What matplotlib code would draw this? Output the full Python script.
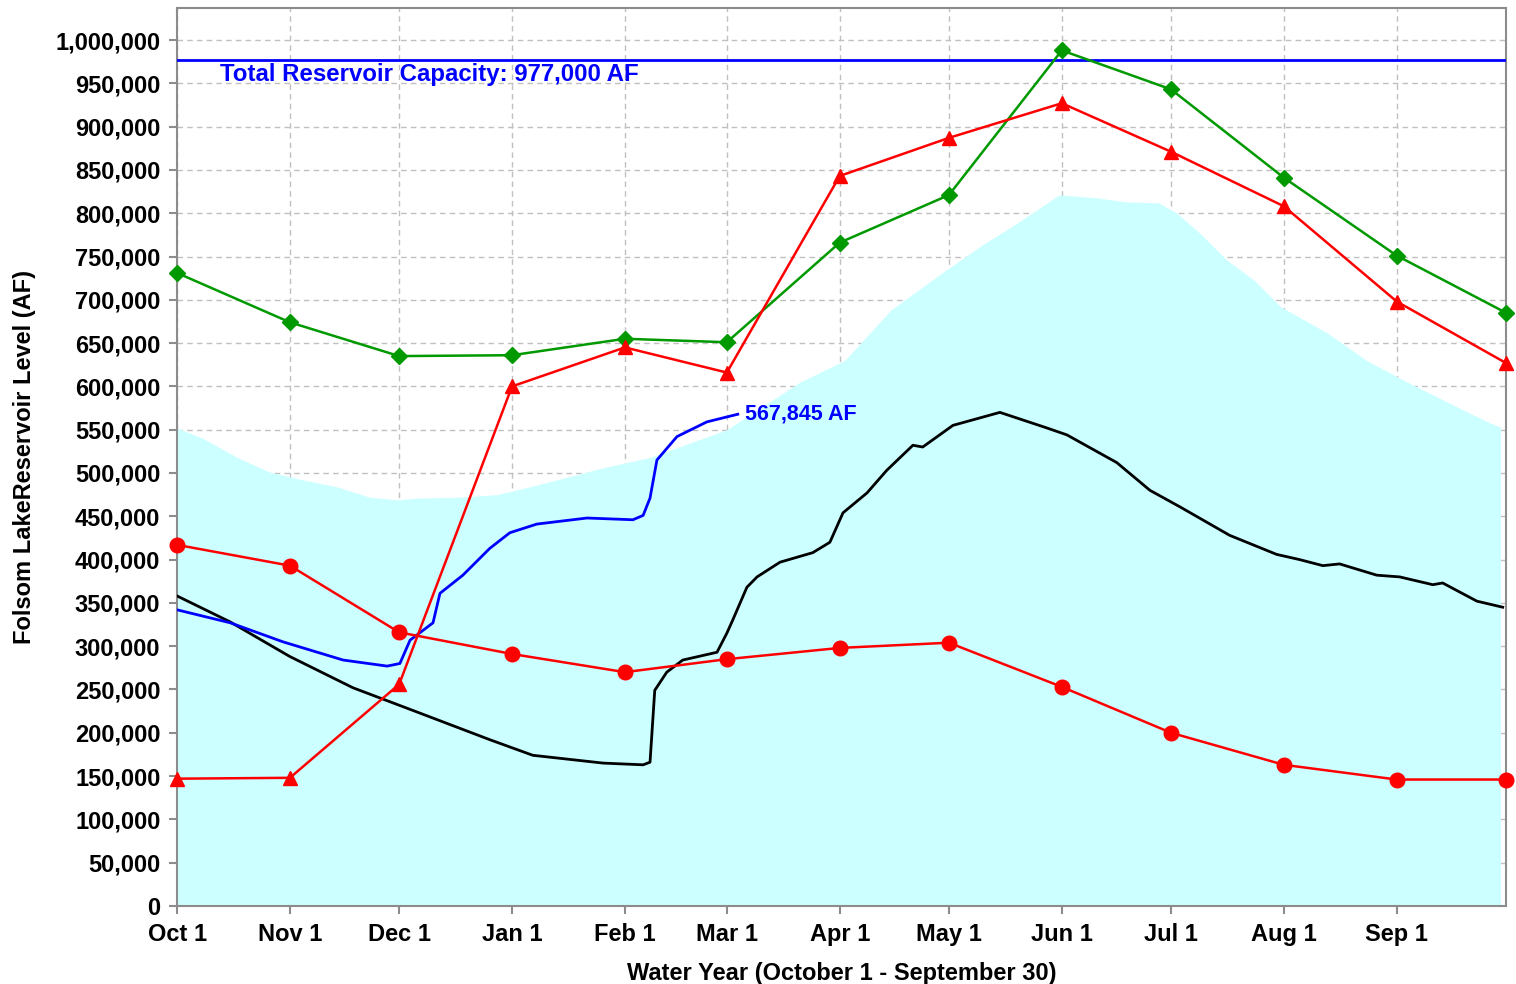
import matplotlib
matplotlib.use("Agg")
import matplotlib.pyplot as plt
from matplotlib.ticker import FuncFormatter, MultipleLocator

plt.rcParams['font.family'] = ['Liberation Sans', 'DejaVu Sans']
plt.rcParams['font.weight'] = 'bold'

# day of water year (0 = Oct 1)
month_days = [0, 31, 61, 92, 123, 151, 182, 212, 243, 273, 304, 335]
month_labels = ['Oct 1', 'Nov 1', 'Dec 1', 'Jan 1', 'Feb 1', 'Mar 1',
                'Apr 1', 'May 1', 'Jun 1', 'Jul 1', 'Aug 1', 'Sep 1']
marker_days = [0, 31, 61, 92, 123, 151, 182, 212, 243, 273, 304, 335, 365]

capacity = 977000

# monthly series (AF)
green_diamonds = [731000, 674000, 635000, 636000, 655000, 651000, 766000,
                  821000, 988000, 943000, 841000, 751000, 685000]
red_triangles = [147000, 148000, 256000, 600000, 645000, 616000, 843000,
                 887000, 927000, 871000, 808000, 698000, 627000]
red_circles = [417000, 393000, 316000, 291000, 270000, 285000, 298000,
               304000, 253000, 200000, 163000, 146000, 146000]

# flood control space (upper limit of cyan area)
flood_days = [0, 7.1, 16.5, 25.5, 34.6, 43.9, 53.0, 60.4, 65.9, 76.9, 87.9,
              98.8, 117.0, 129.9, 151.0, 171.1, 183.4, 196.0, 208.4, 221.0,
              230.9, 242.2, 252.1, 260.8, 269.6, 274.6, 280.9, 288.3, 295.7,
              303.1, 315.8, 326.7, 336.9, 351.7, 360.5, 363.5]
flood_vals = [552000, 540000, 518000, 501000, 492000, 484000, 472000, 469000,
              471000, 472000, 475000, 486000, 506000, 518000, 550000, 605000,
              630000, 688000, 726000, 763000, 789000, 821000, 818000, 813000,
              812000, 800000, 777000, 746000, 723000, 692000, 662000, 630000,
              607000, 576000, 558000, 553000]

# last year storage (black)
black_days = [0, 14.6, 31.0, 48.3, 65.9, 85.9, 97.7, 117.0, 128.0, 129.9,
              131.2, 134.5, 138.9, 148.3, 151.0, 152.6, 156.5, 159.3, 165.6,
              174.6, 179.3, 182.9, 189.5, 194.9, 202.1, 204.8, 213.1, 226.0,
              238.9, 244.4, 258.1, 267.2, 275.4, 289.1, 302.0, 308.3, 314.7,
              319.3, 329.5, 335.8, 344.9, 347.6, 357.0, 364.1]
black_vals = [358000, 328000, 288000, 252000, 224000, 192000, 174000, 165000,
              163000, 166000, 249000, 270000, 284000, 293000, 315000, 330000,
              368000, 380000, 397000, 408000, 420000, 454000, 477000, 503000,
              532000, 530000, 555000, 570000, 552000, 544000, 512000, 480000,
              461000, 428000, 406000, 400000, 393000, 395000, 382000, 380000,
              371000, 373000, 352000, 345000]

# current year storage (blue)
blue_days = [0, 14.6, 29.1, 45.6, 57.7, 61.2, 64.0, 70.3, 72.2, 78.5, 85.9,
             91.4, 98.8, 112.6, 125.2, 128.0, 129.9, 131.8, 137.3, 145.5, 154.0]
blue_vals = [342000, 327000, 305000, 284000, 277000, 280000, 307000, 327000,
             361000, 382000, 413000, 431000, 441000, 448000, 446000, 451000,
             471000, 515000, 542000, 559000, 567845]

fig = plt.figure(figsize=(15.16, 9.84), dpi=100)
ax = fig.add_axes([0.1168, 0.0793, 0.8766, 0.9126])

ax.set_axisbelow(True)
ax.grid(True, color='#c0c0c0', linestyle=(0, (4, 3)), linewidth=1.0)

ax.fill_between(flood_days, 0, flood_vals, color='#ccffff', linewidth=0, zorder=1)

ax.axhline(capacity, color='#0000ff', linewidth=2.0, zorder=3)
ax.text(11.8, 960000, 'Total Reservoir Capacity: 977,000 AF', color='#0000ff',
        fontsize=17.3, fontweight='bold', ha='left', va='center', zorder=6)

ax.plot(black_days, black_vals, color='black', linewidth=2.0, zorder=3)
ax.plot(blue_days, blue_vals, color='#0000ff', linewidth=2.0, zorder=4)
ax.text(156, 567845, '567,845 AF', color='#0000ff', fontsize=15.5,
        fontweight='bold', ha='left', va='center', zorder=6)

ax.plot(marker_days, green_diamonds, color='#009900', linewidth=1.8,
        marker='D', markersize=8, zorder=5, clip_on=False)
ax.plot(marker_days, red_triangles, color='#ff0000', linewidth=1.8,
        marker='^', markersize=10.5, zorder=5, clip_on=False)
ax.plot(marker_days, red_circles, color='#ff0000', linewidth=1.8,
        marker='o', markersize=10.5, zorder=5, clip_on=False)

ax.set_xlim(0, 365)
ax.set_ylim(0, 1037000)
ax.set_xticks(month_days)
ax.set_xticklabels(month_labels)
ax.yaxis.set_major_locator(MultipleLocator(50000))
ax.yaxis.set_major_formatter(FuncFormatter(lambda v, p: f'{int(v):,}'))

for s in ax.spines.values():
    s.set_color('#8c8c8c')
    s.set_linewidth(1.5)
ax.tick_params(axis='both', direction='out', length=6, width=1.5,
               color='#8c8c8c', labelsize=17, pad=6)
for lab in ax.get_xticklabels() + ax.get_yticklabels():
    lab.set_fontweight('bold')

ax.set_xlabel('Water Year (October 1 - September 30)', fontsize=17,
              fontweight='bold', labelpad=12)
ax.set_ylabel('Folsom LakeReservoir Level (AF)', fontsize=17,
              fontweight='bold', labelpad=14)

fig.savefig('out.png', dpi=100)
